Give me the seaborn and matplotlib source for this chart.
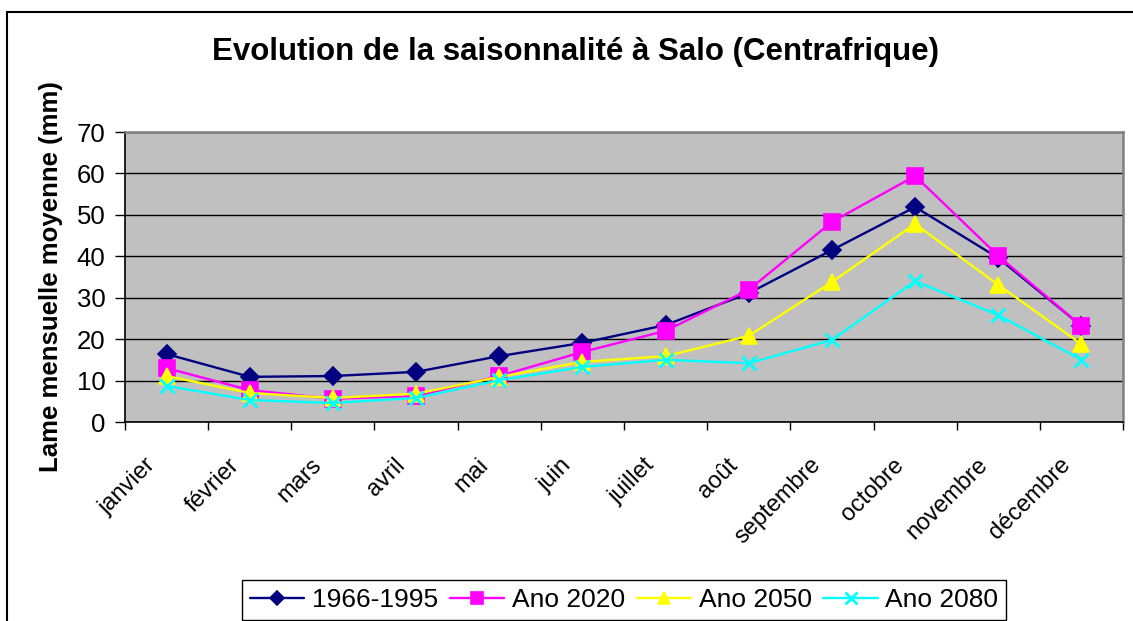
import numpy as np
import matplotlib
matplotlib.use("Agg")
import matplotlib.pyplot as plt
import matplotlib.transforms as mtransforms
import seaborn as sns
from matplotlib.patches import Rectangle

# data
mois = ['janvier', 'février', 'mars', 'avril', 'mai', 'juin', 'juillet',
        'août', 'septembre', 'octobre', 'novembre', 'décembre']
ref_1966_1995 = [16.4, 10.9, 11.1, 12.1, 15.9, 19.1, 23.4, 31.1, 41.5, 51.9, 39.6, 23.2]
ano_2020 = [13.0, 7.7, 5.6, 6.3, 11.1, 16.9, 22.0, 31.9, 48.3, 59.4, 40.1, 23.2]
ano_2050 = [11.1, 7.0, 5.8, 6.8, 10.9, 14.5, 15.9, 20.8, 33.8, 47.8, 33.1, 18.8]
ano_2080 = [8.7, 5.3, 4.6, 5.8, 10.1, 13.3, 15.0, 14.2, 19.8, 34.0, 25.8, 15.0]

sns.set_style("white")
plt.rcParams['font.family'] = ['Liberation Sans', 'DejaVu Sans']
for k in ['text.color', 'axes.labelcolor', 'xtick.color', 'ytick.color']:
    plt.rcParams[k] = 'black'

fig = plt.figure(figsize=(11.33, 6.21), dpi=100)
ax = fig.add_axes([125 / 1133, 1 - 422 / 621, (1123 - 125) / 1133, (422 - 132) / 621])
ax.set_facecolor('#C0C0C0')

pos = np.arange(len(mois))
# label, values, colour, marker, size, edge width
styles = [
    ('1966-1995', ref_1966_1995, '#000080', 'D', 9, 1.2),
    ('Ano 2020', ano_2020, '#FF00FF', 's', 11, 1.2),
    ('Ano 2050', ano_2050, '#FFFF00', '^', 11, 1.2),
    ('Ano 2080', ano_2080, '#00FFFF', 'x', 10, 2.0),
]
for label, vals, c, m, ms, mew in styles:
    sns.lineplot(x=pos, y=vals, color=c, marker=m, markersize=ms,
                 markeredgewidth=mew, markeredgecolor=c, markerfacecolor=c,
                 linewidth=1.7, label=label, ax=ax, zorder=3)

ax.set_xlim(-0.5, 11.5)
ax.set_ylim(0, 70)
ax.set_yticks(np.arange(0, 71, 10))
ax.yaxis.grid(True, color='black', linewidth=1)
ax.set_axisbelow(True)

ax.set_xticks(np.arange(-0.5, 12, 1))
ax.set_xticklabels([])
ax.set_xticks(pos, minor=True)
ax.set_xticklabels(mois, minor=True, rotation=45, ha='right', va='top',
                   rotation_mode='anchor', fontsize=17)
ax.tick_params(axis='x', which='minor', length=0, pad=23)
ax.tick_params(axis='x', which='major', length=6, width=1, color='black', direction='out')
ax.tick_params(axis='y', length=7, width=1, color='black', direction='out', labelsize=18.5, pad=7)
ax.tick_params(left=True, bottom=True)
# move month labels a bit to the left, as in the original
shift = mtransforms.ScaledTranslation(-22 / 100, 0, fig.dpi_scale_trans)
for t in ax.get_xticklabels(minor=True):
    t.set_transform(t.get_transform() + shift)

for side in ['left', 'bottom']:
    ax.spines[side].set_color('black')
    ax.spines[side].set_linewidth(1.2)
for side in ['top', 'right']:
    ax.spines[side].set_color('#808080')
    ax.spines[side].set_linewidth(1.8)

ax.set_xlabel('')
ax.set_ylabel('Lame mensuelle moyenne (mm)', fontsize=18.5, fontweight='bold', labelpad=10)
fig.text(576 / 1133, 1 - 52 / 621, 'Evolution de la saisonnalité à Salo (Centrafrique)',
         ha='center', va='center', fontsize=22.5, fontweight='bold')

handles, labels = ax.get_legend_handles_labels()
leg = ax.legend(handles, labels, loc='center', bbox_to_anchor=(624 / 1133, 1 - 600 / 621),
                bbox_transform=fig.transFigure, ncol=4, fontsize=19, frameon=True,
                fancybox=False, edgecolor='black', framealpha=1, handlelength=2.05,
                handletextpad=0.3, columnspacing=0.45, borderpad=0.3, borderaxespad=0,
                markerscale=0.8)
leg.get_frame().set_linewidth(1)

fig.patches.append(Rectangle((7 / 1133, -0.05), 1.1, 1 - 12 / 621 + 0.05,
                             transform=fig.transFigure, fill=False,
                             edgecolor='black', linewidth=1.5))

fig.savefig('out.png', dpi=100)
